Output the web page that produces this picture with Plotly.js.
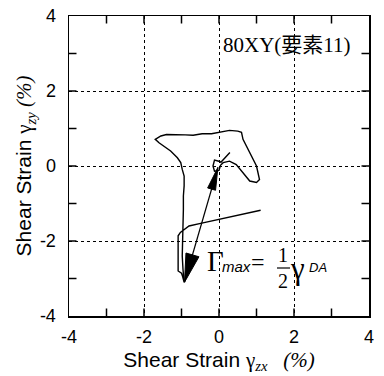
<!DOCTYPE html>
<html>
<head>
<meta charset="utf-8">
<script src="https://cdn.plot.ly/plotly-3.0.1.min.js"></script>
<style>html,body{margin:0;padding:0;background:#fff;}#chart{width:384px;height:376px;}</style>
</head>
<body>
<div id="chart"></div>
<script>
// Strain path (gamma_zx, gamma_zy) in %
const strainZX = [0.29,0.17,0.05,0.02,-0.12,-0.16,-0.12,0.00,0.04,0.11,0.28,0.46,0.64,0.82,1.00,1.08,1.00,0.86,0.73,0.64,0.60,0.50,0.28,0.06,-0.20,-0.45,-0.69,-0.90,-1.20,-1.40,-1.55,-1.70,-1.60,-1.47,-1.29,-1.11,-1.02,-0.98,-0.93,-0.93,-0.95,-0.95,-0.96,-0.97,-0.98,-0.98,-0.96,-0.93,-0.97,-1.00,-1.09,-1.09,-1.09,-1.03,-0.80,-0.49,-0.22,0.00,0.31,0.67,0.93,1.11];
const strainZY = [0.36,0.22,0.10,0.12,0.16,0.00,-0.14,-0.12,0.02,0.09,0.13,0.04,-0.18,-0.40,-0.44,-0.36,0.00,0.27,0.53,0.71,0.90,0.93,0.95,0.90,0.86,0.86,0.82,0.83,0.84,0.84,0.80,0.71,0.62,0.53,0.40,0.22,0.09,-0.09,-0.27,-0.53,-0.80,-1.16,-1.51,-1.78,-2.04,-2.40,-2.76,-3.10,-2.95,-2.86,-2.80,-2.30,-1.86,-1.77,-1.60,-1.53,-1.47,-1.42,-1.35,-1.29,-1.23,-1.18];
// Double arrow (Gamma_max = 1/2 gamma_DA)
const arrowX = [-0.03, -0.92];
const arrowY = [-0.04, -3.10];
const tickVals = [-4,-2,0,2,4];
const tickText = ['-4','-2','0','2','4'];
const minorVals = [-3,-1,1,3];
const noteText = '80XY(要素11)';

function head(tx, ty, ox, oy, len, wid) {
  const dx = tx - ox, dy = ty - oy, n = Math.hypot(dx, dy);
  const ux = dx / n, uy = dy / n, px = -uy, py = ux;
  const bx = tx - ux * len, by = ty - uy * len;
  return {x: [tx, bx + px * wid / 2, bx - px * wid / 2, tx],
          y: [ty, by + py * wid / 2, by - py * wid / 2, ty]};
}
const hTop = head(arrowX[0], arrowY[0], arrowX[1], arrowY[1], 0.60, 0.22);
const hBot = head(arrowX[1], arrowY[1], arrowX[0], arrowY[0], 0.76, 0.36);

// inward tick marks on all four sides, as short segments in data units (0.2 = 7.5px)
const tl = 0.2;
const tickSegX = [], tickSegY = [];
minorVals.concat(tickVals.slice(1, -1)).forEach(v => {
  tickSegX.push(v, v, null, v, v, null, -4, -4 + tl, null, 4 - tl, 4, null);
  tickSegY.push(-4, -4 + tl, null, 4 - tl, 4, null, v, v, null, v, v, null);
});

const traces = [
  {x: tickSegX, y: tickSegY, mode: 'lines', line: {color: '#000', width: 1.5}, hoverinfo: 'skip', connectgaps: false},
  {x: strainZX, y: strainZY, mode: 'lines', line: {color: '#000', width: 1.4}, hoverinfo: 'skip'},
  {x: arrowX, y: arrowY, mode: 'lines', line: {color: '#000', width: 1.2}, hoverinfo: 'skip'},
  {x: hTop.x, y: hTop.y, mode: 'lines', fill: 'toself', fillcolor: '#000', line: {color: '#000', width: 1}, hoverinfo: 'skip'},
  {x: hBot.x, y: hBot.y, mode: 'lines', fill: 'toself', fillcolor: '#000', line: {color: '#000', width: 1}, hoverinfo: 'skip'}
];

const px2x = p => (p - 219) / 37.5;
const px2y = p => (166 - p) / 37.5;
const serif = '"Liberation Serif", "Times New Roman", "Noto Sans CJK JP", serif';
const sans = '"Liberation Sans", Arial, sans-serif';

const ax = {
  range: [-4, 4], tickmode: 'array', tickvals: tickVals, ticktext: tickText,
  ticks: '', showline: true, linecolor: '#000', linewidth: 1.5, mirror: true,
  showgrid: true, gridcolor: '#000', gridwidth: 1, griddash: 'dot', zeroline: false,
  tickfont: {family: sans, size: 18, color: '#000'}
};

const layout = {
  width: 384, height: 376,
  margin: {l: 69, r: 15, t: 16, b: 60},
  paper_bgcolor: '#fff', plot_bgcolor: '#fff', showlegend: false,
  xaxis: Object.assign({}, ax, {
    ticklabelstandoff: 4,
    title: {text: 'Shear Strain <span style="font-family:Liberation Serif">γ<sub><i>zx</i></sub>   <i>(%)</i></span>', font: {family: sans, size: 21, color: '#000'}, standoff: 6}
  }),
  yaxis: Object.assign({}, ax, {
    ticklabelstandoff: 8,
    title: {text: 'Shear Strain <span style="font-family:Liberation Serif">γ<sub><i>zy</i></sub> <i>(%)</i></span>', font: {family: sans, size: 21, color: '#000'}, standoff: 2}
  }),
  annotations: [
    {x: px2x(287), y: px2y(45), xref: 'x', yref: 'y', text: noteText, showarrow: false, font: {family: serif, size: 21, color: '#000'}},
    {x: px2x(215), y: px2y(261), xref: 'x', yref: 'y', text: 'Γ', showarrow: false, font: {family: serif, size: 29, color: '#000'}},
    {x: px2x(236), y: px2y(266), xref: 'x', yref: 'y', text: '<i>max</i>', showarrow: false, font: {family: sans, size: 15, color: '#000'}},
    {x: px2x(258), y: px2y(262), xref: 'x', yref: 'y', text: '=', showarrow: false, font: {family: serif, size: 24, color: '#000'}},
    {x: px2x(283), y: px2y(255), xref: 'x', yref: 'y', text: '1', showarrow: false, font: {family: serif, size: 20, color: '#000'}},
    {x: px2x(283), y: px2y(281), xref: 'x', yref: 'y', text: '2', showarrow: false, font: {family: serif, size: 20, color: '#000'}},
    {x: px2x(297), y: px2y(268), xref: 'x', yref: 'y', text: 'γ', showarrow: false, font: {family: serif, size: 31, color: '#000'}},
    {x: px2x(318), y: px2y(267), xref: 'x', yref: 'y', text: '<i>DA</i>', showarrow: false, font: {family: sans, size: 13, color: '#000'}}
  ],
  shapes: [
    {type: 'line', xref: 'x', yref: 'y', x0: px2x(277), x1: px2x(290), y0: px2y(268), y1: px2y(268), line: {color: '#000', width: 1.2}}
  ]
};

Plotly.newPlot('chart', traces, layout, {staticPlot: true, displayModeBar: false});
</script>
</body>
</html>
